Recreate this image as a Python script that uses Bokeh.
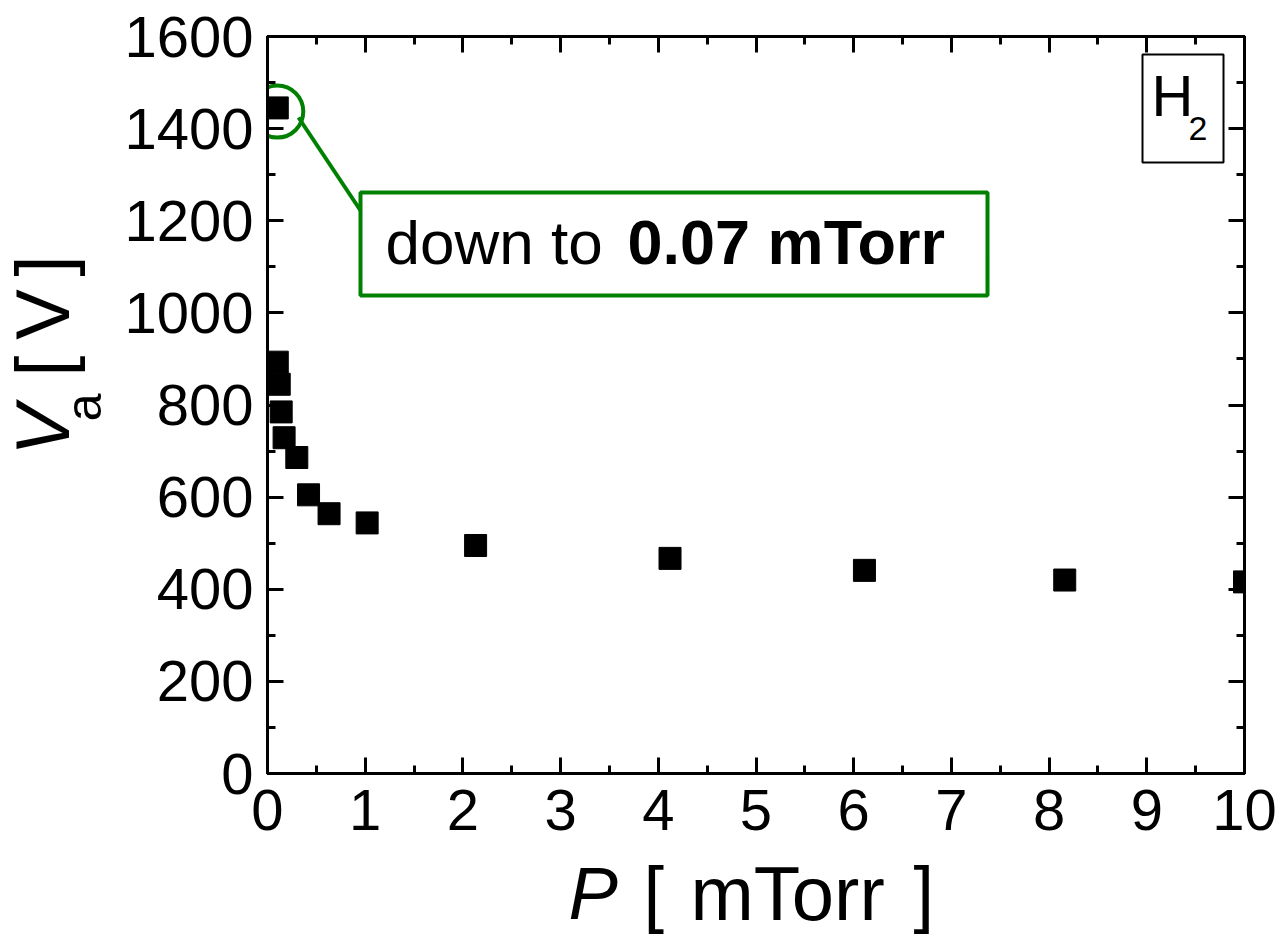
import math
from bokeh.plotting import figure
from bokeh.layouts import row, column
from bokeh.models import (Range1d, LinearAxis, SingleIntervalTicker, CustomJSTickFormatter,
                          BoxAnnotation, ColumnDataSource)
from bokeh.core.properties import value
from bokeh.embed import file_html
from bokeh.resources import INLINE

# ---- data ----
pressure = [0.10, 0.10, 0.12, 0.14, 0.17, 0.30, 0.42, 0.63, 1.02, 2.13, 4.12, 6.11, 8.16, 10.0]
voltage = [1445, 893, 845, 785, 729, 686, 605, 564, 544, 495, 467, 441, 420, 416]
highlight_p = pressure[0]
highlight_v = voltage[0]
note_normal = "down to"
note_bold = "0.07 mTorr"
gas = "H"
gas_sub = "2"
x_title_sym = "P"
x_title_unit = "mTorr"
y_title_sym = "V"
y_title_sub = "a"
y_title_unit = "V"

# ---- geometry (page pixels) ----
W, H = 1278, 941
LEFT_W = 110            # strip holding the y title
BOTTOM_Y = 860          # top of strip holding the x title
FL, FR, FT, FB = 267, 1244, 36, 773
X0, X1 = 0, 10
Y0, Y1 = 0, 1600
K = 0.4                 # baseline correction (fraction of font size)

def dx(px):
    return X0 + (px - FL) * (X1 - X0) / (FR - FL)

def dy(py):
    return Y0 + (FB - py) * (Y1 - Y0) / (FB - FT)

FONT = "Liberation Sans"
GREEN = "#008000"

p = figure(width=W - LEFT_W, height=BOTTOM_Y, output_backend="svg", toolbar_location=None,
           x_range=Range1d(X0, X1), y_range=Range1d(Y0, Y1),
           min_border_left=FL - LEFT_W, min_border_right=W - FR,
           min_border_top=FT, min_border_bottom=BOTTOM_Y - FB,
           x_axis_location=None, y_axis_location=None)
p.grid.visible = False
p.outline_line_color = "black"
p.outline_line_width = 3
p.background_fill_color = "white"
p.border_fill_color = "white"

def style_axis(ax, labels=True, standoff=10):
    ax.axis_line_width = 3
    ax.major_tick_line_width = 3
    ax.minor_tick_line_width = 3
    ax.major_tick_in = 16
    ax.major_tick_out = 0
    ax.minor_tick_in = 8
    ax.minor_tick_out = 0
    ax.major_label_text_font = FONT
    ax.major_label_text_font_size = "58px"
    ax.major_label_text_color = "black"
    ax.major_label_standoff = standoff
    if not labels:
        ax.formatter = CustomJSTickFormatter(code="return ''")
        ax.major_label_standoff = 0

xt = lambda: SingleIntervalTicker(interval=1, num_minor_ticks=2)
yt = lambda: SingleIntervalTicker(interval=200, num_minor_ticks=2)

bx = LinearAxis(ticker=xt()); style_axis(bx, True, 16)
lx = LinearAxis(ticker=yt()); style_axis(lx, True, 14)
tx = LinearAxis(ticker=xt()); style_axis(tx, False)
rx = LinearAxis(ticker=yt()); style_axis(rx, False)
p.add_layout(bx, "below")
p.add_layout(lx, "left")
p.add_layout(tx, "above")
p.add_layout(rx, "right")

# boxes (drawn beneath glyphs)
p.add_layout(BoxAnnotation(left=dx(360), right=dx(987), top=dy(192), bottom=dy(295),
                           fill_color="white", fill_alpha=1, line_color=GREEN,
                           line_alpha=1, line_width=4, level="underlay"))
p.add_layout(BoxAnnotation(left=dx(1142), right=dx(1223), top=dy(54), bottom=dy(162),
                           fill_color="white", fill_alpha=1, line_color="black",
                           line_alpha=1, line_width=2, level="underlay"))

# data squares
src = ColumnDataSource(dict(p=pressure, v=voltage))
p.scatter("p", "v", source=src, marker="square", size=22, fill_color="black",
          line_color="black")

# highlight circle and connector
p.scatter([highlight_p], [highlight_v - 8], marker="circle", size=52, fill_color=None,
          line_color=GREEN, line_width=4)
p.segment(x0=[dx(298)], y0=[dy(117)], x1=[dx(360)], y1=[dy(210)],
          line_color=GREEN, line_width=4)

def txt(fig, x, y, s, size, style="normal", angle=0.0):
    fig.text(x=[x], y=[y], text=[s], text_font=value(FONT),
             text_font_size=value(f"{size}px"),
             text_font_style=style, text_color="black", text_align="left",
             text_baseline="alphabetic", angle=angle)

# horizontal text inside the frame: (page x, page baseline y)
def ftxt(px, py, s, size, style="normal"):
    txt(p, dx(px), dy(py - K * size), s, size, style)

ftxt(385, 267, note_normal, 62)
ftxt(627, 267, note_bold, 63, "bold")
ftxt(1151, 118, gas, 58)
ftxt(1188, 142, gas_sub, 34)

# y title strip (data units = page pixels, y measured upward from page bottom)
yf = figure(width=LEFT_W, height=BOTTOM_Y, output_backend="svg", toolbar_location=None,
            x_range=Range1d(0, LEFT_W), y_range=Range1d(H - BOTTOM_Y, H),
            min_border=0, x_axis_location=None, y_axis_location=None)
yf.grid.visible = False
yf.outline_line_color = None
ang = math.pi / 2

def ytxt(bx_, py, s, size, style="normal"):
    txt(yf, bx_ - K * size, H - py, s, size, style, ang)

ytxt(72, 489, y_title_sym, 76, "italic")
ytxt(103, 449, y_title_sub, 50)
ytxt(72, 397, "[", 76)
ytxt(72, 354, y_title_unit, 76)
ytxt(72, 280, "]", 76)

# x title strip spanning the full page width
xh = H - BOTTOM_Y
xf = figure(width=W, height=xh, output_backend="svg", toolbar_location=None,
            x_range=Range1d(0, W), y_range=Range1d(0, xh),
            min_border=0, x_axis_location=None, y_axis_location=None)
xf.grid.visible = False
xf.outline_line_color = None

def xtxt(px, py, s, size, style="normal"):
    txt(xf, px, H - (py - K * size), s, size, style)

xtxt(568, 923, x_title_sym, 74, "italic")
xtxt(643, 923, "[", 74)
xtxt(690, 923, x_title_unit, 76)
xtxt(913, 923, "]", 74)

layout = column(row(yf, p, spacing=0), xf, spacing=0)
open("out.html", "w").write(file_html(layout, INLINE))
